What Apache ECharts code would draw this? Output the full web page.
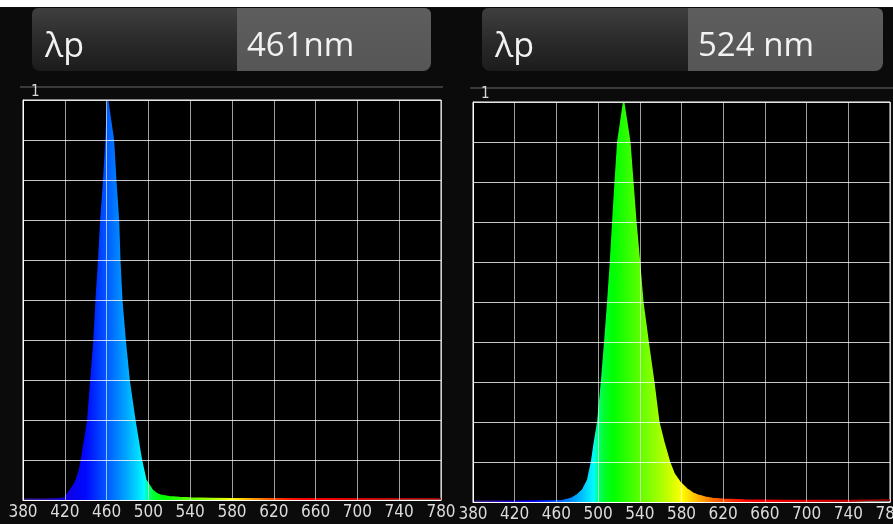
<!DOCTYPE html>
<html><head><meta charset="utf-8">
<script src="https://cdn.jsdelivr.net/npm/echarts@6/dist/echarts.min.js"></script>
<style>html,body{margin:0;padding:0;background:#0b0b0b;}#c{width:893px;height:524px;}</style>
</head><body><div id="c"></div>
<script>
// ---- data ----
const xTicks = [380, 420, 460, 500, 540, 580, 620, 660, 700, 740, 780];
const yMaxLabel = '1';
const panelTitles = ['λp', 'λp'];
const peakLabels = ['461nm', '524 nm'];

const blueNm  = [380, 400, 415, 420, 425, 428, 431, 434, 436, 439, 442, 445, 448, 450, 452.5, 454.5, 457.3, 459.5, 461, 466.5, 468.7, 471.3, 472.6, 474.5, 477.7, 481.5, 487, 493.3, 497.5, 500, 504, 508, 513, 520, 530, 540, 560, 580, 620, 680, 780];
const blueVal = [0.002, 0.002, 0.003, 0.005, 0.024, 0.035, 0.05, 0.075, 0.1, 0.15, 0.2, 0.3, 0.4, 0.5, 0.6, 0.7, 0.8, 0.9, 1.0, 0.9, 0.8, 0.7, 0.6, 0.5, 0.4, 0.3, 0.2, 0.1, 0.05, 0.04, 0.024, 0.016, 0.011, 0.008, 0.006, 0.005, 0.004, 0.003, 0.003, 0.003, 0.003];

const greenNm  = [380, 420, 460, 466, 470, 475, 480, 485, 490, 493.7, 496.5, 499.7, 503.3, 506.4, 509.3, 511.9, 514.1, 516.4, 518.9, 524.5, 530.4, 533.3, 536.2, 539.7, 542.9, 548, 553.4, 558.2, 563, 568.5, 573, 578.4, 585, 591, 597, 603, 610, 620, 640, 680, 740, 780];
const greenVal = [0.002, 0.002, 0.003, 0.004, 0.006, 0.01, 0.018, 0.03, 0.055, 0.1, 0.15, 0.2, 0.3, 0.4, 0.5, 0.6, 0.7, 0.8, 0.9, 1.0, 0.9, 0.8, 0.7, 0.6, 0.5, 0.4, 0.3, 0.2, 0.15, 0.1, 0.07, 0.05, 0.033, 0.022, 0.016, 0.012, 0.009, 0.007, 0.005, 0.004, 0.004, 0.005];

// spectrum colour anchors (style)
const specNm  = [380, 400, 420, 440, 450, 460, 470, 480, 490, 496, 500, 505, 515, 530, 545, 560, 572, 580, 590, 600, 610, 620, 635, 650, 700, 780];
const specCol = ['#40208c', '#3010b0', '#1000e0', '#0008ff', '#0030ff', '#0058ff', '#0080ff', '#00acff', '#00dcff', '#00fcff', '#00ff80', '#00ff30', '#00ff00', '#38ff00', '#70ff00', '#a8ff00', '#d8ff00', '#ffff00', '#ffd000', '#ffa000', '#ff7000', '#ff4800', '#ff1800', '#ff0000', '#dd0000', '#a00000'];

function hex(c){return [parseInt(c.substr(1,2),16),parseInt(c.substr(3,2),16),parseInt(c.substr(5,2),16)];}
function colAt(nm){
  for (let i=0;i<specNm.length-1;i++){
    if (nm>=specNm[i] && nm<=specNm[i+1]){
      const t=(nm-specNm[i])/(specNm[i+1]-specNm[i]);
      const a=hex(specCol[i]), b=hex(specCol[i+1]);
      return 'rgb('+a.map((v,k)=>Math.round(v+(b[k]-v)*t)).join(',')+')';
    }
  }
  return specCol[specCol.length-1];
}
const xMin = xTicks[0], xMax = xTicks[xTicks.length-1];
const stepCols = [];
for (let nm=xMin; nm<=xMax; nm+=2) stepCols.push(colAt(nm));

const series1 = blueNm.map((n,i)=>[n, blueVal[i]]);
const series2 = greenNm.map((n,i)=>[n, greenVal[i]]);

const chart = echarts.init(document.getElementById('c'), null, {renderer:'canvas'});
const labelFont = 'Liberation Sans Narrow, DejaVu Sans Condensed, sans-serif';
function gridCfg(left, top, width){
  return {left, top, width, height:400, show:true, backgroundColor:'#000', borderColor:'#ffffff', borderWidth:1, containLabel:false, outerBoundsMode:'none'};
}
function xAx(i){
  return {gridIndex:i, type:'value', min:xMin, max:xMax, interval:40, z:3,
    axisLine:{show:true, onZero:false, lineStyle:{color:'#ffffff', width:1}},
    axisTick:{show:false},
    axisLabel:{color:'#dcdcdc', fontSize:17, fontFamily:labelFont, margin:4, hideOverlap:false},
    splitLine:{show:true, lineStyle:{color:'rgba(255,255,255,0.62)', width:1}}};
}
function yAx(i){
  return {gridIndex:i, type:'value', min:0, max:1, interval:0.1, z:3,
    axisLine:{show:true, lineStyle:{color:'#ffffff', width:1}},
    axisTick:{show:false},
    splitLine:{show:true, lineStyle:{color:'rgba(255,255,255,0.78)', width:1}},
    axisLabel:{inside:true, formatter:v=>Math.abs(v-1)<1e-6?yMaxLabel:'', color:'#d8d8d8', fontSize:15, fontFamily:labelFont, verticalAlign:'bottom', margin:8, padding:[0,0,0,0]}};
}
function headerBox(x, split, w, title, val){
  return [
    {type:'rect', shape:{x:x, y:8, width:split-x, height:63, r:[6,0,0,8]}, style:{fill:new echarts.graphic.LinearGradient(0,0,0,1,[{offset:0,color:'#3f3f3f'},{offset:0.5,color:'#2b2b2b'},{offset:1,color:'#1c1c1c'}])}, z:10},
    {type:'rect', shape:{x:split, y:8, width:x+w-split, height:63, r:[0,6,8,0]}, style:{fill:new echarts.graphic.LinearGradient(0,0,0,1,[{offset:0,color:'#5e5e5e'},{offset:1,color:'#565656'}])}, z:10},
    {type:'text', x:x+13, y:47, style:{text:title, fill:'#f2f2f2', font:'34px "Open Sans", sans-serif', verticalAlign:'middle'}, z:11},
    {type:'text', x:split+10, y:47, style:{text:val, fill:'#f2f2f2', font:'33px "Open Sans", sans-serif', verticalAlign:'middle'}, z:11}
  ];
}
chart.setOption({
  backgroundColor:'#0b0b0b',
  animation:false,
  grid:[gridCfg(23,100,418), gridCfg(473,102,417)],
  xAxis:[xAx(0), xAx(1)],
  yAxis:[yAx(0), yAx(1)],
  visualMap:[
    {type:'continuous', show:false, seriesIndex:0, dimension:0, min:xMin, max:xMax, inRange:{color:stepCols}},
    {type:'continuous', show:false, seriesIndex:1, dimension:0, min:xMin, max:xMax, inRange:{color:stepCols}}
  ],
  series:[
    {type:'line', xAxisIndex:0, yAxisIndex:0, data:series1, symbol:'none', showSymbol:false, smooth:false, lineStyle:{width:1.5}, areaStyle:{opacity:1}, z:2, silent:true},
    {type:'line', xAxisIndex:1, yAxisIndex:1, data:series2, symbol:'none', showSymbol:false, smooth:false, lineStyle:{width:1.5}, areaStyle:{opacity:1}, z:2, silent:true}
  ],
  graphic:{elements:[
    {type:'rect', shape:{x:0, y:0, width:893, height:7}, style:{fill:'#ffffff'}, z:12},
    {type:'line', shape:{x1:20, y1:87, x2:443, y2:87}, style:{stroke:'#3a3a3a', lineWidth:2}, z:0},
    {type:'line', shape:{x1:470, y1:88, x2:893, y2:88}, style:{stroke:'#3a3a3a', lineWidth:2}, z:0},
    ...headerBox(32, 237, 399, panelTitles[0], peakLabels[0]),
    ...headerBox(482, 688, 401, panelTitles[1], peakLabels[1])
  ]}
});
</script></body></html>
